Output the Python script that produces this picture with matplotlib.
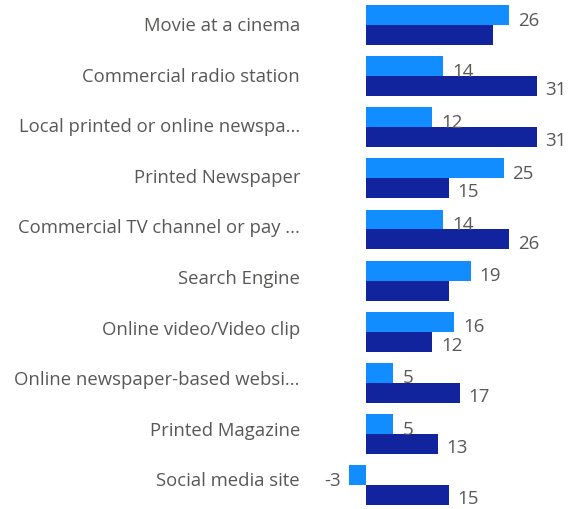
import numpy as np
import matplotlib.pyplot as plt

categories = [
    "Movie at a cinema",
    "Commercial radio station",
    "Local printed or online newspa...",
    "Printed Newspaper",
    "Commercial TV channel or pay ...",
    "Search Engine",
    "Online video/Video clip",
    "Online newspaper-based websi...",
    "Printed Magazine",
    "Social media site",
]
series_a = [26, 14, 12, 25, 14, 19, 16, 5, 5, -3]
series_b = [23, 31, 31, 15, 26, 15, 12, 17, 13, 15]
# labels hidden where they would collide
show_b = [False, True, True, True, True, False, True, True, True, True]

LIGHT = "#118DFF"
DARK = "#12239E"
TEXT = "#5A5856"

W, H = 578, 510
fig = plt.figure(figsize=(W / 100, H / 100), dpi=100)
# axes spans pixel x 340..578, full height
ax = fig.add_axes([340 / W, 0, 1 - 340 / W, 1])

y = np.arange(len(categories))
bh = 0.39
ax.barh(y - bh / 2, series_a, height=bh, color=LIGHT)
ax.barh(y + bh / 2, series_b, height=bh, color=DARK)

ax.set_xlim(-4.7, 38.5)
ax.set_ylim(9.47, -0.51)
ax.axis("off")

gap = 1.6
for i in range(len(categories)):
    va = series_a[i]
    xa = va + gap if va >= 0 else va - gap
    ax.text(xa, y[i] - bh / 2 + 0.09, str(va), ha="left" if va >= 0 else "right",
            va="center", fontsize=13.5, color=TEXT, family="Open Sans")
    if show_b[i]:
        ax.text(series_b[i] + gap, y[i] + bh / 2 + 0.06, str(series_b[i]),
                ha="left", va="center", fontsize=13.5, color=TEXT, family="Open Sans")
    # category label to the left of the plot
    fig.text(300 / W, 1 - (26 + i * 50.6) / H, categories[i], ha="right", va="center",
             fontsize=13.3, color=TEXT, family="Open Sans")

fig.savefig("out.png", dpi=100)
